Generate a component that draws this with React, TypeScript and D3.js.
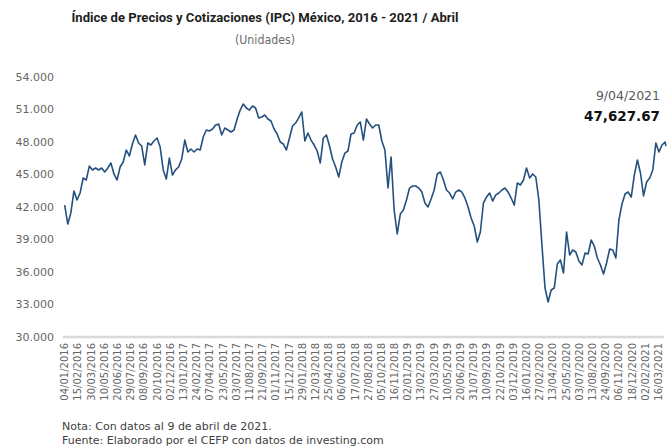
import React from "react";
import * as d3 from "d3";

// Category axis labels (one every 30 trading days)
const tickLabels = [
  "04/01/2016", "15/02/2016", "30/03/2016", "10/05/2016", "20/06/2016", "29/07/2016",
  "08/09/2016", "20/10/2016", "02/12/2016", "13/01/2017", "24/02/2017", "07/04/2017",
  "23/05/2017", "03/07/2017", "11/08/2017", "21/09/2017", "01/11/2017", "15/12/2017",
  "29/01/2018", "12/03/2018", "25/04/2018", "06/06/2018", "17/07/2018", "27/08/2018",
  "05/10/2018", "16/11/2018", "02/01/2019", "13/02/2019", "27/03/2019", "10/05/2019",
  "20/06/2019", "31/07/2019", "10/09/2019", "22/10/2019", "03/12/2019", "16/01/2020",
  "27/02/2020", "13/04/2020", "25/05/2020", "03/07/2020", "13/08/2020", "24/09/2020",
  "06/11/2020", "18/12/2020", "02/02/2021", "16/03/2021",
];
const tickStep = 30; // trading days between labels

// IPC readings, one every 7 trading days starting 04/01/2016
const sampleStep = 7;
const ipcValues = [
  42180, 40430, 41450, 43480, 42650, 43290, 44680, 44490, 45780, 45420,
  45600, 45420, 45600, 45230, 45600, 46060, 45050, 44490, 45690, 46150,
  47260, 46710, 47820, 48650, 47910, 47630, 45880, 47910, 47720, 48090,
  48370, 47540, 45420, 44580, 46520, 44950, 45420, 45690, 46430, 48180,
  47080, 47350, 47080, 47350, 47260, 48460, 49110, 49020, 49200, 49570,
  49660, 48650, 49290, 49110, 48920, 49110, 50120, 50950, 51510, 51140,
  50950, 51320, 51140, 50220, 50310, 50490, 50120, 49940, 49200, 48740,
  48000, 47820, 47260, 48370, 49480, 49750, 50220, 50770, 48090, 48830,
  48180, 47720, 47170, 46060, 48370, 48650, 47630, 46430, 45690, 44770,
  46150, 46980, 47170, 48740, 48830, 49570, 49850, 48180, 50120, 49660,
  49290, 49570, 49570, 48090, 47260, 43750, 46620, 41720, 39510, 41350,
  41720, 42650, 43750, 43940, 43940, 43750, 43380, 42370, 42000, 42740,
  43570, 45050, 45230, 44490, 43570, 43290, 42740, 43380, 43570, 43380,
  42830, 42000, 40980, 40250, 38770, 39690, 42370, 42920, 43290, 42550,
  43110, 43290, 43570, 43750, 43380, 42830, 42180, 44220, 44030, 44490,
  45600, 44680, 45050, 44770, 42650, 38490, 34520, 33230, 34340, 34520,
  36740, 37110, 35910, 39690, 37570, 38030, 37850, 37010, 36650, 37750,
  37660, 38950, 38400, 37290, 36650, 35820, 36830, 38120, 38030, 37290,
  40800, 42280, 43200, 43380, 42920, 44950, 46340, 45140, 43020, 44310,
  44680, 45420, 47910, 47080, 47720, 48000,
];
const lastTradingDay = 1367;
const lastDate = "9/04/2021";
const lastValue = 47627.67;

const yTicks = [30000, 33000, 36000, 39000, 42000, 45000, 48000, 51000, 54000];

const W = 671;
const H = 448;
const FONT = "'DejaVu Sans', sans-serif";

export default function App() {
  const x = d3.scaleLinear().domain([0, 1350]).range([64.7, 658.5]);
  const y = d3.scaleLinear().domain([30000, 54000]).range([337, 77]);

  const series = ipcValues
    .map((v, i) => ({ d: i * sampleStep, v }))
    .concat([{ d: lastTradingDay, v: lastValue }]);

  const line = d3
    .line<{ d: number; v: number }>()
    .x((p) => x(p.d))
    .y((p) => y(p.v));

  const fmtY = (v: number) => d3.format(",")(v).replace(/,/g, ".");
  const fmtLast = d3.format(",.2f");

  return (
    <svg
      width={W}
      height={H}
      style={{ position: "absolute", left: 0, top: 0, display: "block", background: "#fff" }}
      fontFamily={FONT}
    >
      {/* Title */}
      <text
        x={265}
        y={22}
        textAnchor="middle"
        fontFamily="Roboto, sans-serif"
        fontWeight="bold"
        fontSize={13.5}
        fill="#1e1e1e"
        textLength={387}
        lengthAdjust="spacingAndGlyphs"
      >
        Índice de Precios y Cotizaciones (IPC) México, 2016 - 2021 / Abril
      </text>
      <text x={265} y={44} textAnchor="middle" fontSize={12} fill="#6b6b6b" textLength={60} lengthAdjust="spacingAndGlyphs">
        (Unidades)
      </text>

      {/* Y axis labels */}
      {yTicks.map((t) => (
        <text key={t} x={54} y={y(t)} dy="0.35em" textAnchor="end" fontSize={11} fill="#666">
          {fmtY(t)}
        </text>
      ))}

      {/* baseline */}
      <line x1={63} x2={664} y1={y(30000)} y2={y(30000)} stroke="#d9d9d9" strokeWidth={2.5} />

      {/* X axis labels */}
      {tickLabels.map((lab, i) => {
        const tx = x(i * tickStep);
        return (
          <text
            key={lab}
            transform={`translate(${tx},343) rotate(-90)`}
            dy="0.35em"
            textAnchor="end"
            fontSize={10}
            fill="#666"
          >
            {lab}
          </text>
        );
      })}

      {/* Series */}
      <path d={line(series) || ""} fill="none" stroke="#24507f" strokeWidth={1.6} strokeLinejoin="round" />

      {/* Annotation */}
      <text x={660} y={100} textAnchor="end" fontSize={12.5} fill="#595959">
        {lastDate}
      </text>
      <text x={660} y={121} textAnchor="end" fontSize={13.5} fontWeight="bold" fill="#111">
        {fmtLast(lastValue)}
      </text>

      {/* Notes */}
      <text x={62} y={430} fontSize={11} fill="#404040">
        Nota: Con datos al 9 de abril de 2021.
      </text>
      <text x={62} y={444} fontSize={11} fill="#404040">
        Fuente: Elaborado por el CEFP con datos de investing.com
      </text>
    </svg>
  );
}
